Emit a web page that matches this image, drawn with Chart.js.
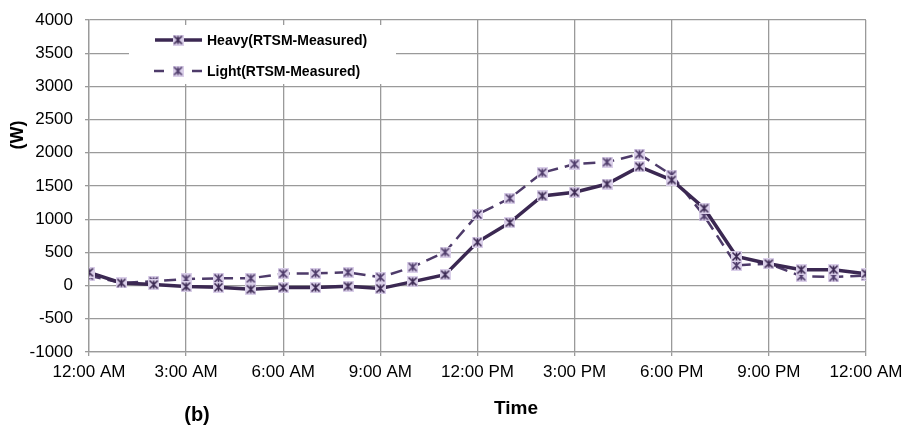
<!DOCTYPE html>
<html>
<head>
<meta charset="utf-8">
<script src="https://cdn.jsdelivr.net/npm/chart.js@4/dist/chart.umd.min.js"></script>
<style>
  html, body { margin: 0; padding: 0; background: #fff; }
  #wrap { width: 905px; height: 425px; position: relative; }
</style>
</head>
<body>
<div id="wrap"><canvas id="myChart"></canvas></div>
<script>
// hour of day, 0..24
const hours = [0,1,2,3,4,5,6,7,8,9,10,11,12,13,14,15,16,17,18,19,20,21,22,23,24];
const heavy = [200,40,15,-15,-25,-55,-30,-30,-10,-45,60,165,655,950,1350,1405,1530,1790,1590,1165,440,330,240,240,180];
const light = [150,40,65,100,110,110,180,185,200,125,280,505,1070,1315,1700,1830,1860,1980,1665,1050,305,330,140,130,150];
const timeLabels = ['12:00 AM','3:00 AM','6:00 AM','9:00 AM','12:00 PM','3:00 PM','6:00 PM','9:00 PM','12:00 AM'];

const heavyColor = '#3b2852';
const lightColor = '#4e3b6a';
const markFill = '#dacfe9';
const fontFamily = "'Liberation Sans', Arial, sans-serif";

// square marker with an asterisk on top
function makeMarker(size, color) {
    const c = document.createElement('canvas');
    c.width = size; c.height = size;
    const g = c.getContext('2d');
    g.fillStyle = markFill;
    g.fillRect(0, 0, size, size);
    g.strokeStyle = color;
    g.lineWidth = 1.6;
    const m = size / 2, r = size / 2 - 1.5;
    g.beginPath();
    g.moveTo(m - r, m - r); g.lineTo(m + r, m + r);
    g.moveTo(m + r, m - r); g.lineTo(m - r, m + r);
    g.moveTo(m, m - r); g.lineTo(m, m + r);
    g.stroke();
    return c;
}
const heavyMarker = makeMarker(11, heavyColor);
const lightMarker = makeMarker(11, lightColor);

const toXY = vals => hours.map((h, i) => ({x: h, y: vals[i]}));

const overlay = {
    id: 'overlay',
    afterDraw(chart) {
        const ctx = chart.ctx;
        ctx.save();
        // legend box
        ctx.fillStyle = '#fff';
        ctx.fillRect(129, 25, 267, 59);
        const rows = [
            {y: 40, text: 'Heavy(RTSM-Measured)', segs: [[155, 202]], w: 3.5, color: heavyColor, mk: heavyMarker},
            {y: 71, text: 'Light(RTSM-Measured)', segs: [[154, 164], [192, 202]], w: 2.5, color: lightColor, mk: lightMarker}
        ];
        rows.forEach(r => {
            ctx.strokeStyle = r.color;
            ctx.lineWidth = r.w;
            ctx.beginPath();
            r.segs.forEach(s => { ctx.moveTo(s[0], r.y); ctx.lineTo(s[1], r.y); });
            ctx.stroke();
            ctx.drawImage(r.mk, 178 - 5.5, r.y - 5.5);
            ctx.fillStyle = '#000';
            ctx.font = 'bold 14px ' + fontFamily;
            ctx.textAlign = 'left';
            ctx.textBaseline = 'middle';
            ctx.fillText(r.text, 207, r.y + 1);
        });
        // titles
        ctx.fillStyle = '#000';
        ctx.textAlign = 'center';
        ctx.textBaseline = 'middle';
        ctx.font = 'bold 19px ' + fontFamily;
        ctx.fillText('Time', 516, 409);
        ctx.font = 'bold 20px ' + fontFamily;
        ctx.fillText('(b)', 197, 415);
        ctx.font = 'bold 18px ' + fontFamily;
        ctx.translate(18, 135);
        ctx.rotate(-Math.PI / 2);
        ctx.fillText('(W)', 0, 0);
        ctx.restore();
    }
};

const ctx = document.getElementById('myChart').getContext('2d');
const myChart = new Chart(ctx, {
    type: 'line',
    data: {
        datasets: [{
            label: 'Heavy(RTSM-Measured)',
            data: toXY(heavy),
            borderColor: heavyColor,
            borderWidth: 3.5,
            pointStyle: heavyMarker,
            tension: 0
        },
        {
            label: 'Light(RTSM-Measured)',
            data: toXY(light),
            borderColor: lightColor,
            borderWidth: 2.5,
            borderDash: [12, 7],
            pointStyle: lightMarker,
            tension: 0
        }]
    },
    options: {
        responsive: true,
        maintainAspectRatio: false,
        animation: false,
        layout: {
            padding: {left: 0, right: 39, top: 20, bottom: 0}
        },
        plugins: {
            legend: { display: false },
            tooltip: { enabled: false }
        },
        scales: {
            x: {
                type: 'linear',
                min: 0,
                max: 24,
                afterFit: s => { s.height = 73; s.paddingRight = 0; s.paddingLeft = 0; },
                ticks: {
                    stepSize: 3,
                    color: '#000',
                    font: {family: fontFamily, size: 17},
                    maxRotation: 0,
                    padding: 6,
                    callback: v => timeLabels[v / 3]
                },
                grid: { color: '#9a9a9a', lineWidth: 1.3, tickLength: 4 },
                border: { color: '#9a9a9a', width: 1.3 }
            },
            y: {
                min: -1000,
                max: 4000,
                afterFit: s => { s.width = 89; s.paddingTop = 0; s.paddingBottom = 0; },
                ticks: {
                    stepSize: 500,
                    color: '#000',
                    font: {family: fontFamily, size: 17},
                    padding: 12,
                    callback: v => String(v)
                },
                grid: { color: '#9a9a9a', lineWidth: 1.3, tickLength: 4 },
                border: { color: '#9a9a9a', width: 1.3 }
            }
        }
    },
    plugins: [overlay]
});
</script>
</body>
</html>
